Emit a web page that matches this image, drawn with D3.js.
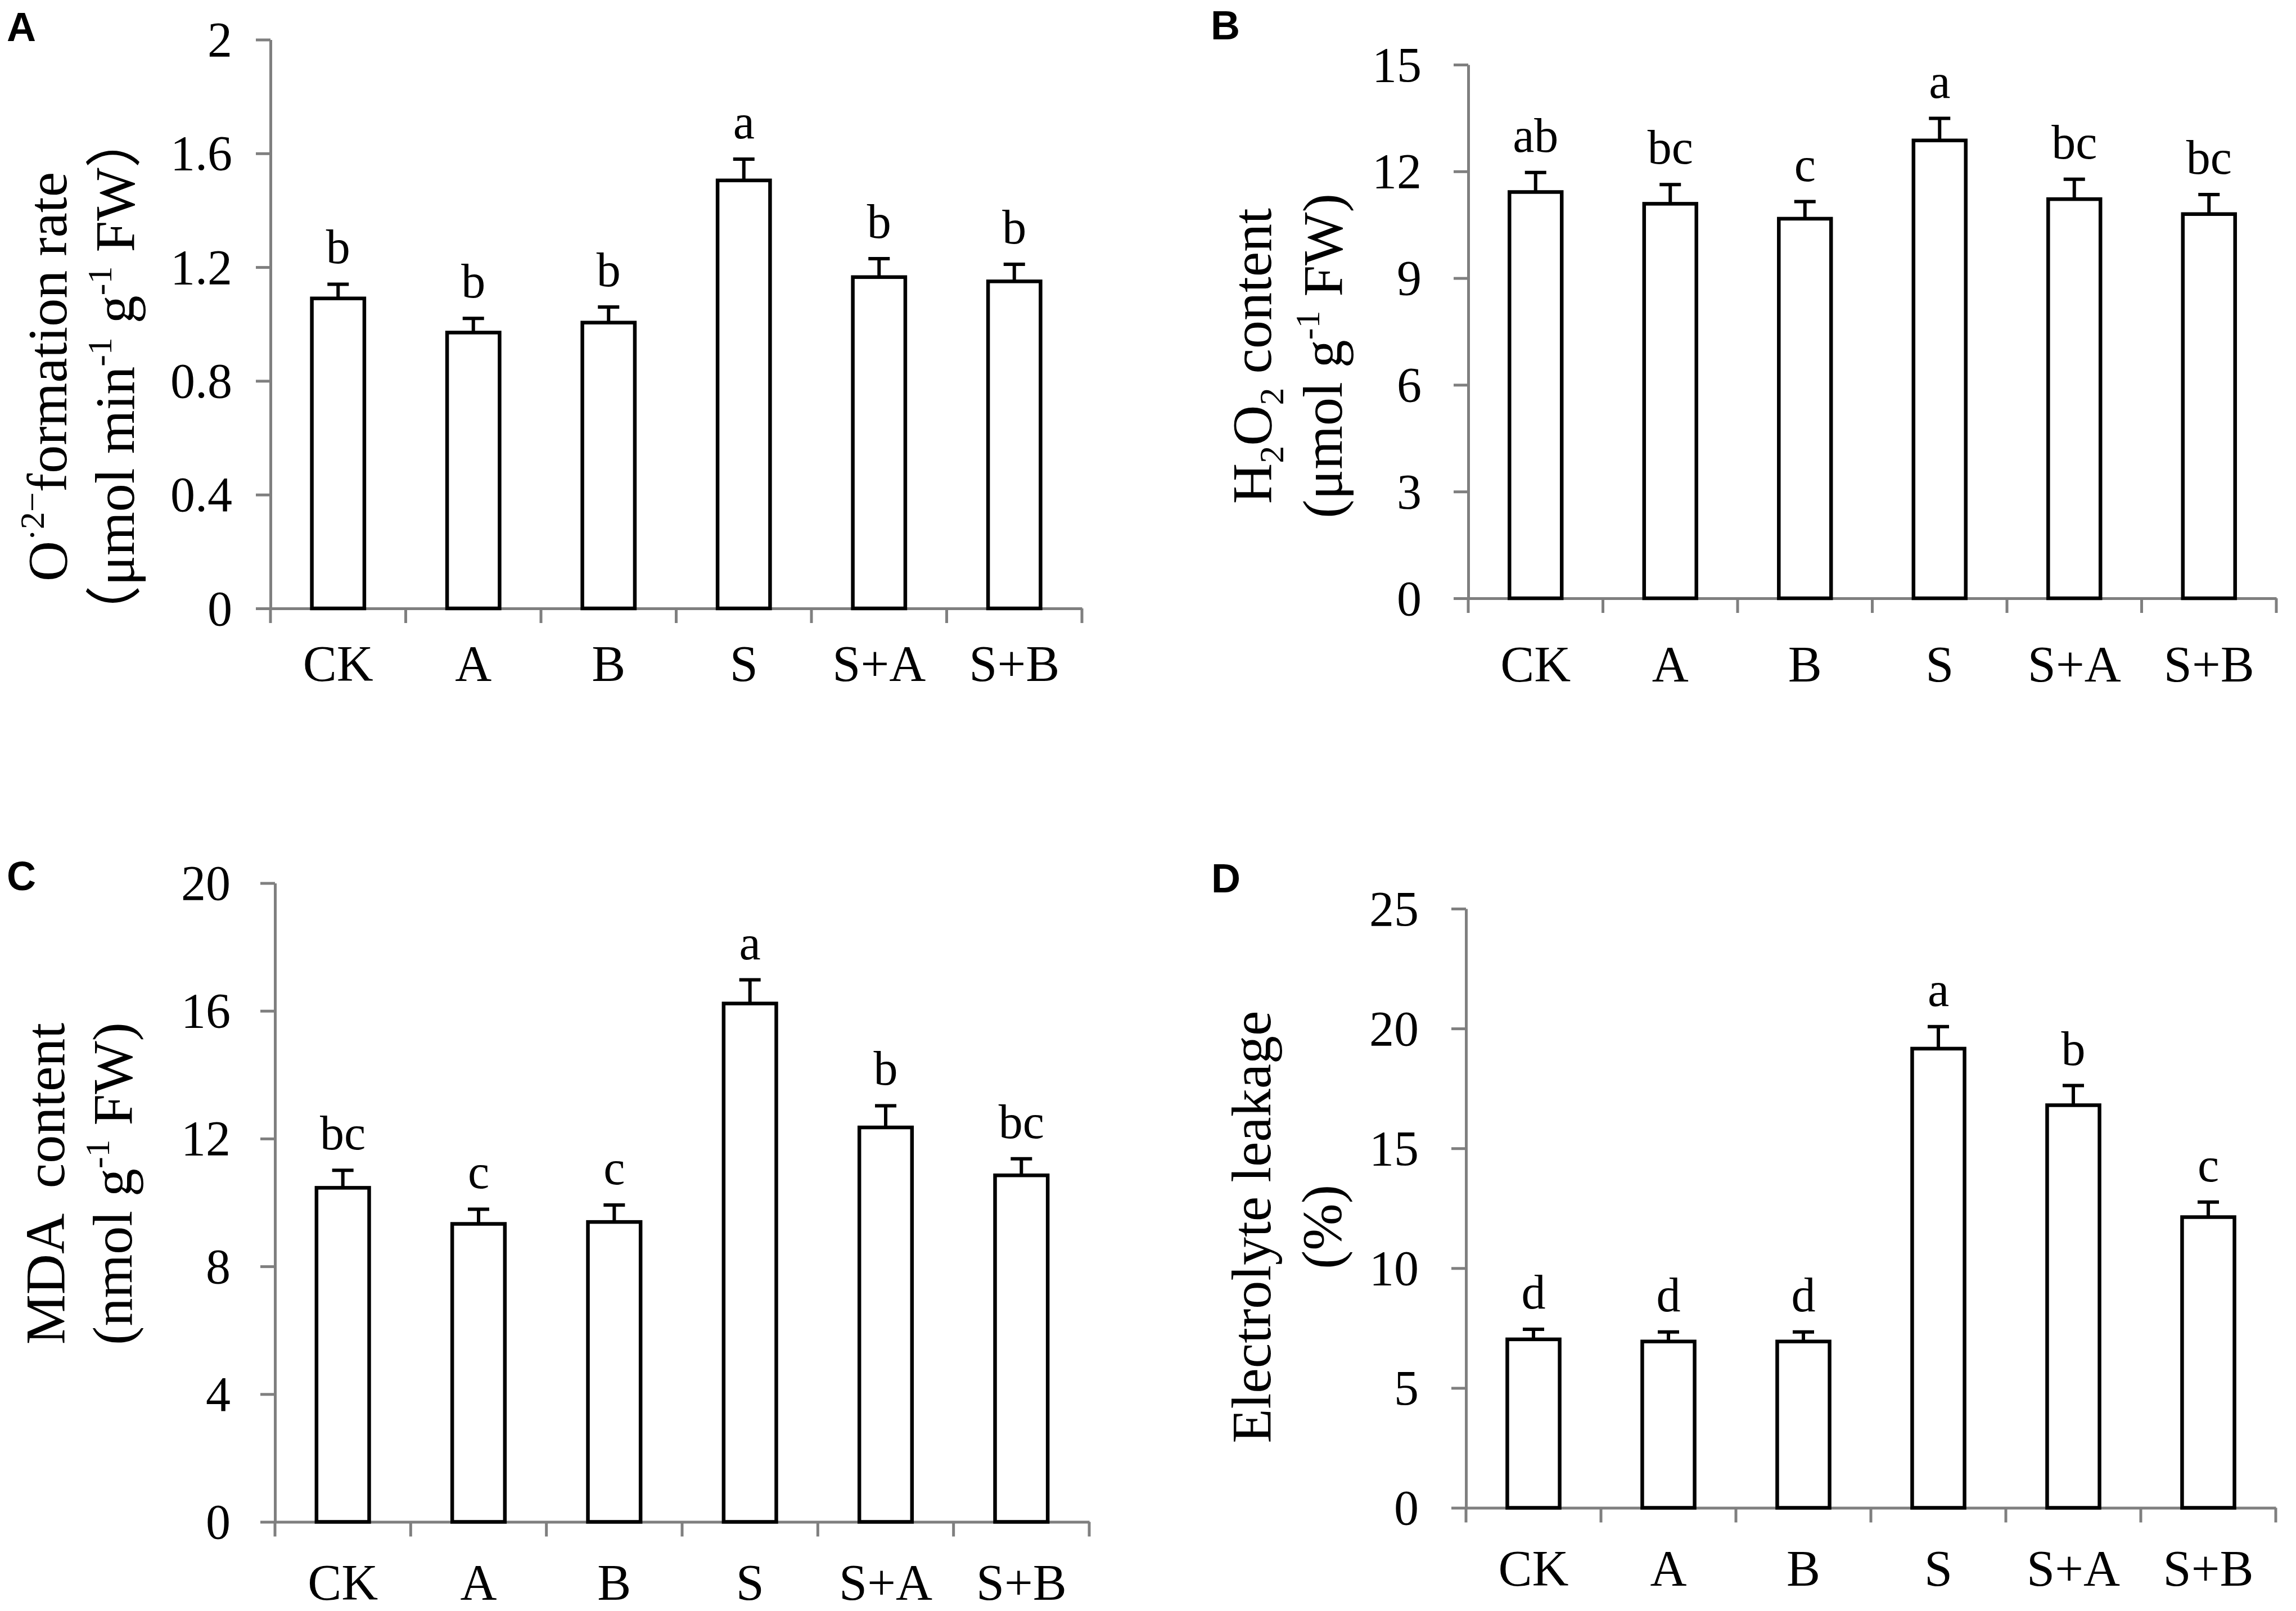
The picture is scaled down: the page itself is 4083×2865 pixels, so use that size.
<!DOCTYPE html>
<html>
<head>
<meta charset="utf-8">
<script src="https://cdn.jsdelivr.net/npm/d3@7"></script>
<style>
body { margin: 0; background: #fff; }
svg text { font-family: "Liberation Serif", "Times New Roman", "Noto Sans CJK SC", serif; fill: #000; }
</style>
</head>
<body>
<div id="chart-area"></div>
<script>
// treatments
const categories = ["CK", "A", "B", "S", "S+A", "S+B"];

// A: O2- formation rate
const o2Rate = [1.09, 0.97, 1.005, 1.505, 1.165, 1.15];
const o2Err = [0.05, 0.05, 0.055, 0.075, 0.065, 0.06];
const o2Letters = ["b", "b", "b", "a", "b", "b"];
const o2Ticks = [0, 0.4, 0.8, 1.2, 1.6, 2];

// B: H2O2 content
const h2o2 = [11.42, 11.09, 10.67, 12.87, 11.22, 10.8];
const h2o2Err = [0.55, 0.54, 0.48, 0.62, 0.56, 0.55];
const h2o2Letters = ["ab", "bc", "c", "a", "bc", "bc"];
const h2o2Ticks = [0, 3, 6, 9, 12, 15];

// C: MDA content
const mda = [10.46, 9.33, 9.39, 16.23, 12.35, 10.85];
const mdaErr = [0.55, 0.46, 0.53, 0.74, 0.68, 0.52];
const mdaLetters = ["bc", "c", "c", "a", "b", "bc"];
const mdaTicks = [0, 4, 8, 12, 16, 20];

// D: electrolyte leakage
const leakage = [7.03, 6.94, 6.94, 19.16, 16.8, 12.13];
const leakageErr = [0.42, 0.4, 0.4, 0.92, 0.82, 0.63];
const leakageLetters = ["d", "d", "d", "a", "b", "c"];
const leakageTicks = [0, 5, 10, 15, 20, 25];

const chartSize = { width: 4083, height: 2865 };
const axisColor = "#7f7f7f";
const tickLen = 26;

const panels = [
  {
    tag: "A", tagPos: [12, 73],
    values: o2Rate, errors: o2Err, letters: o2Letters, ticks: o2Ticks,
    fmt: d => `${+d.toFixed(1)}`,
    x0: 481, x1: 1924, y0: 1082, yTop: 70.5,
    tickPad: 42, catOffset: 129,
    labelX: [83, 203], labelY: 670,
    label: [
      [{ t: "O" }, { t: "·2−", sup: true }, { t: "formation rate" }],
      [{ t: "（μmol min" }, { t: "-1", sup: true }, { t: " g" }, { t: "-1", sup: true }, { t: " FW）" }]
    ]
  },
  {
    tag: "B", tagPos: [2153, 70],
    values: h2o2, errors: h2o2Err, letters: h2o2Letters, ticks: h2o2Ticks,
    fmt: d => `${d}`,
    x0: 2611, x1: 4048, y0: 1064, yTop: 115,
    tickPad: 57, catOffset: 148,
    labelX: [2225, 2351], labelY: 633,
    label: [
      [{ t: "H" }, { t: "2", sub: true }, { t: "O" }, { t: "2", sub: true }, { t: " content" }],
      [{ t: "(μmol g" }, { t: "-1", sup: true }, { t: " FW)" }]
    ]
  },
  {
    tag: "C", tagPos: [12, 1583],
    values: mda, errors: mdaErr, letters: mdaLetters, ticks: mdaTicks,
    fmt: d => `${d}`,
    x0: 489, x1: 1937, y0: 2706.5, yTop: 1570.5,
    tickPad: 53, catOffset: 138,
    labelX: [79, 199], labelY: 2105,
    label: [
      [{ t: "MDA  content" }],
      [{ t: "(nmol g" }, { t: "-1", sup: true }, { t: " FW)" }]
    ]
  },
  {
    tag: "D", tagPos: [2154, 1587],
    values: leakage, errors: leakageErr, letters: leakageLetters, ticks: leakageTicks,
    fmt: d => `${d}`,
    x0: 2607, x1: 4047, y0: 2681.5, yTop: 1616,
    tickPad: 58, catOffset: 138,
    labelX: [2224, 2349], labelY: 2182,
    label: [
      [{ t: "Electrolyte leakage" }],
      [{ t: "(%)" }]
    ]
  }
];

// writes a line with super/subscripts as tspans
const richText = function(text, parts, fs) {
  let shift = 0;
  parts.forEach(p => {
    const target = p.sup ? -0.4 * fs : p.sub ? 0.22 * fs : 0;
    text.append("tspan")
      .attr("dy", target - shift)
      .attr("font-size", p.sup || p.sub ? fs * 0.62 : fs)
      .text(p.t);
    shift = target;
  });
};

const drawPanel = function(svg, p) {
  const g = svg.append("g");

  const y = d3.scaleLinear()
    .domain([0, d3.max(p.ticks)])
    .range([p.y0, p.yTop]);

  const xCat = d3.scaleBand()
    .domain(categories)
    .range([p.x0, p.x1]);

  const xBar = d3.scaleBand()
    .domain(categories)
    .range([p.x0, p.x1])
    .paddingInner(0.612)
    .paddingOuter(0.306);

  // y axis
  const yAxis = d3.axisLeft(y)
    .tickValues(p.ticks)
    .tickFormat(p.fmt)
    .tickSize(tickLen)
    .tickSizeOuter(0)
    .tickPadding(p.tickPad);

  const ya = g.append("g")
    .attr("transform", `translate(${p.x0},0)`)
    .call(yAxis);
  ya.selectAll("path, line").attr("stroke", axisColor).attr("stroke-width", 5);
  ya.selectAll("text")
    .attr("font-family", "Liberation Serif")
    .attr("font-size", 88)
    .attr("fill", "#000")
    .attr("dy", "0.33em");

  // x axis with labels in the middle of each group
  const xAxis = d3.axisBottom(xCat)
    .tickSize(0)
    .tickSizeOuter(0);

  const xa = g.append("g")
    .attr("transform", `translate(0,${p.y0})`)
    .call(xAxis);
  xa.select("path").attr("stroke", axisColor).attr("stroke-width", 5);
  xa.selectAll("text")
    .attr("font-family", "Liberation Serif")
    .attr("font-size", 90)
    .attr("fill", "#000")
    .attr("y", p.catOffset)
    .attr("dy", 0);

  // tick marks between groups
  const bounds = categories.map(c => xCat(c)).concat([p.x1]);
  xa.selectAll(".sep")
    .data(bounds)
    .enter()
    .append("line")
    .attr("class", "sep")
    .attr("x1", d => d)
    .attr("x2", d => d)
    .attr("y1", 0)
    .attr("y2", tickLen)
    .attr("stroke", axisColor)
    .attr("stroke-width", 5);

  const rows = categories.map((c, i) => ({
    name: c, v: p.values[i], e: p.errors[i], letter: p.letters[i]
  }));
  const mid = d => xBar(d.name) + xBar.bandwidth() / 2;

  // error bars
  const err = g.selectAll(".err").data(rows).enter().append("g").attr("class", "err");
  err.append("line")
    .attr("x1", mid).attr("x2", mid)
    .attr("y1", d => y(d.v)).attr("y2", d => y(d.v + d.e))
    .attr("stroke", "#000").attr("stroke-width", 6);
  err.append("line")
    .attr("x1", d => mid(d) - 19).attr("x2", d => mid(d) + 19)
    .attr("y1", d => y(d.v + d.e)).attr("y2", d => y(d.v + d.e))
    .attr("stroke", "#000").attr("stroke-width", 6);

  // bars
  g.selectAll(".bar")
    .data(rows)
    .enter()
    .append("rect")
    .attr("class", "bar")
    .attr("x", d => xBar(d.name))
    .attr("width", xBar.bandwidth())
    .attr("y", d => y(d.v))
    .attr("height", d => y(0) - y(d.v))
    .attr("fill", "#fff")
    .attr("stroke", "#000")
    .attr("stroke-width", 6.5);

  // significance letters
  g.selectAll(".sig")
    .data(rows)
    .enter()
    .append("text")
    .attr("class", "sig")
    .attr("x", mid)
    .attr("y", d => y(d.v + d.e) - 37)
    .attr("text-anchor", "middle")
    .attr("font-size", 86)
    .text(d => d.letter);

  // y axis title, two lines
  p.label.forEach((parts, i) => {
    const t = g.append("text")
      .attr("transform", `translate(${p.labelX[i]},${p.labelY}) rotate(-90)`)
      .attr("text-anchor", "middle")
      .attr("y", 35)
      .attr("xml:space", "preserve")
      .style("white-space", "pre")
      .attr("font-size", 100);
    richText(t, parts, 100);
  });

  // panel tag
  g.append("text")
    .attr("x", p.tagPos[0])
    .attr("y", p.tagPos[1])
    .style("font-family", "'Liberation Sans', Arial, sans-serif")
    .attr("font-weight", "bold")
    .attr("font-size", 72)
    .text(p.tag);
};

const main = function() {
  const svg = d3.select("#chart-area")
    .append("svg")
    .attr("width", chartSize.width)
    .attr("height", chartSize.height);

  svg.append("rect")
    .attr("width", chartSize.width)
    .attr("height", chartSize.height)
    .attr("fill", "#fff");

  panels.forEach(p => drawPanel(svg, p));
};

window.onload = main;
</script>
</body>
</html>
